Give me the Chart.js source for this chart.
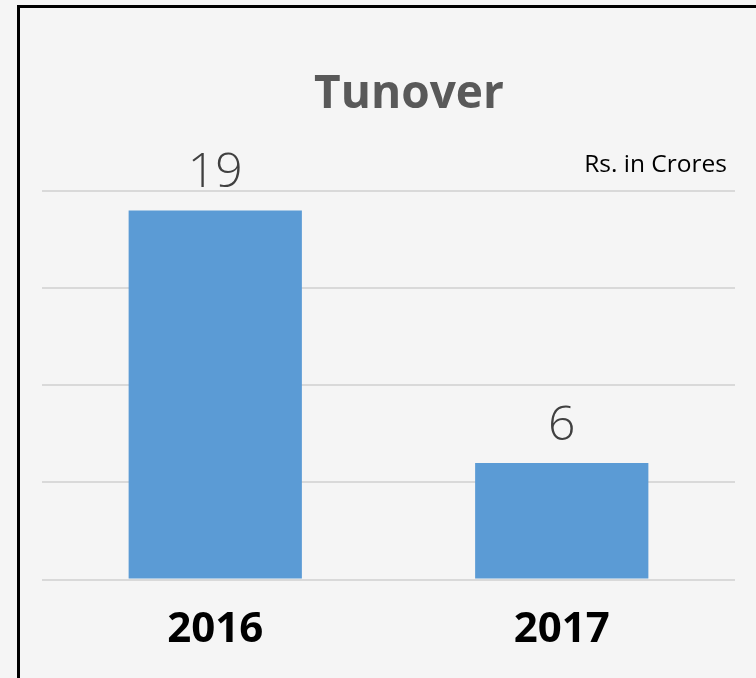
<!DOCTYPE html>
<html>
<head>
<meta charset="utf-8">
<title>Tunover</title>
<script src="https://cdn.jsdelivr.net/npm/chart.js@4.4.1/dist/chart.umd.min.js"></script>
<style>
  html, body { margin: 0; padding: 0; background: #f5f5f5; overflow: hidden; }
  #frame {
    position: absolute; left: 17px; top: 5px;
    width: 900px; height: 800px;
    border: 3px solid #000;
  }
  #wrap { position: absolute; left: 0; top: 0; width: 756px; height: 680px; }
</style>
</head>
<body>
<div id="frame"></div>
<div id="wrap"><canvas id="turnoverChart" width="756" height="680"></canvas></div>
<script>
  // turnover by year, Rs. in Crores
  var years = ['2016', '2017'];
  var turnover = [19, 6];
  var yMax = 20;
  var yStep = 5;

  var titleText = 'Tunover';
  var unitText = 'Rs. in Crores';

  // heading and unit note above the plot
  var headings = {
    id: 'headings',
    afterDraw: function (chart) {
      var ctx = chart.ctx;
      ctx.save();
      ctx.textBaseline = 'alphabetic';
      ctx.fillStyle = '#595959';
      ctx.textAlign = 'center';
      ctx.font = 'bold 46px "Open Sans"';
      ctx.fillText(titleText, 409, 108);
      ctx.fillStyle = '#000';
      ctx.textAlign = 'right';
      ctx.font = '24.5px "Open Sans"';
      ctx.fillText(unitText, 727, 172);
      ctx.restore();
    }
  };

  // value written above each bar
  var barValues = {
    id: 'barValues',
    afterDatasetsDraw: function (chart) {
      var ctx = chart.ctx;
      var meta = chart.getDatasetMeta(0);
      ctx.save();
      ctx.fillStyle = '#404040';
      ctx.textAlign = 'center';
      ctx.textBaseline = 'alphabetic';
      ctx.font = '300 48px "Open Sans"';
      meta.data.forEach(function (bar, i) {
        ctx.fillText(String(chart.data.datasets[0].data[i]), bar.x, bar.y - 23);
      });
      ctx.restore();
    }
  };

  var ctx = document.getElementById('turnoverChart').getContext('2d');
  var chart = new Chart(ctx, {
    type: 'bar',
    data: {
      labels: years,
      datasets: [{
        label: 'Turnover',
        data: turnover,
        backgroundColor: '#5b9bd5',
        borderWidth: 0,
        categoryPercentage: 1.0,
        barPercentage: 0.5
      }]
    },
    options: {
      responsive: false,
      animation: false,
      layout: {
        padding: { left: 42, right: 21, top: 191, bottom: 0 }
      },
      plugins: {
        legend: { display: false },
        title: { display: false },
        tooltip: { enabled: false }
      },
      scales: {
        x: {
          grid: { display: false, drawTicks: false },
          border: { display: false },
          ticks: {
            color: '#000',
            padding: 25,
            font: { family: '"Open Sans"', size: 42, weight: 'bold' }
          }
        },
        y: {
          min: 0,
          max: yMax,
          grid: { color: '#d9d9d9', lineWidth: 2, drawTicks: false },
          border: { display: false },
          ticks: { display: false, stepSize: yStep }
        }
      }
    },
    plugins: [headings, barValues]
  });
</script>
</body>
</html>
